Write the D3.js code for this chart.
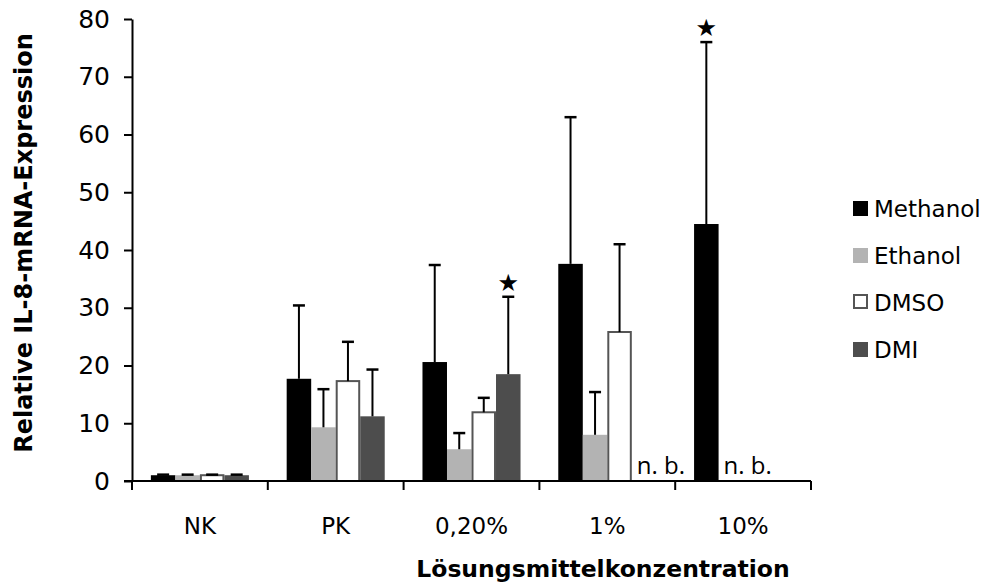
<!DOCTYPE html>
<html>
<head>
<meta charset="utf-8">
<script src="https://d3js.org/d3.v7.min.js"></script>
<style>
  body { margin: 0; background: #fff; }
  svg text { font-family: "DejaVu Sans", Verdana, sans-serif; fill: #000; }
</style>
</head>
<body>
<svg id="chart"></svg>
<script>
// categories and series
var categories = ["NK", "PK", "0,20%", "1%", "10%"];
var seriesNames = ["Methanol", "Ethanol", "DMSO", "DMI"];

// means per series (null = n. b.)
var methanol = [1.0, 17.7, 20.6, 37.6, 44.5];
var ethanol  = [1.0,  9.3,  5.5,  8.0, null];
var dmso     = [1.0, 17.3, 11.9, 25.8, null];
var dmi      = [1.0, 11.2, 18.5, null, null];

// upper error (SD) per series
var methanolErr = [0.1, 12.7, 16.8, 25.4, 31.5];
var ethanolErr  = [0.1,  6.6,  2.8,  7.4, null];
var dmsoErr     = [0.1,  6.8,  2.5, 15.2, null];
var dmiErr      = [0.1,  8.1, 13.4, null, null];

// significance marks: [category, series]
var stars = [["0,20%", "DMI"], ["10%", "Methanol"]];
var yTicks = [0, 10, 20, 30, 40, 50, 60, 70, 80];

var means = [methanol, ethanol, dmso, dmi];
var errs = [methanolErr, ethanolErr, dmsoErr, dmiErr];
var fills = ["#000000", "#b3b3b3", "#ffffff", "#4d4d4d"];
var strokes = ["none", "none", "#555555", "none"];

var width = 984, height = 582;
var margin = {left: 132, right: 173, top: 19, bottom: 101};

var svg = d3.select("#chart").attr("width", width).attr("height", height);

var x = d3.scaleBand().domain(categories)
  .range([margin.left, width - margin.right]).paddingInner(0).paddingOuter(0);
var xs = d3.scaleBand().domain(seriesNames)
  .range([0, x.bandwidth()]).paddingInner(0).paddingOuter(0.77);
var y = d3.scaleLinear().domain([0, 80]).range([height - margin.bottom, margin.top]);

// bars
seriesNames.forEach(function(s, i) {
  var rows = categories.map(function(c, j) {
    return {cat: c, v: means[i][j], e: errs[i][j]};
  }).filter(function(d) { return d.v != null; });

  var g = svg.append("g");
  g.selectAll("rect").data(rows).enter().append("rect")
    .attr("x", function(d) { return x(d.cat) + xs(s) + (strokes[i] != "none" ? 1 : 0); })
    .attr("y", function(d) { return y(d.v); })
    .attr("width", xs.bandwidth() - (strokes[i] != "none" ? 2 : 0))
    .attr("height", function(d) { return y(0) - y(d.v); })
    .attr("fill", fills[i])
    .attr("stroke", strokes[i])
    .attr("stroke-width", 2);

  // upper error bars
  var cx = function(d) { return x(d.cat) + xs(s) + xs.bandwidth() / 2; };
  g.selectAll("line.err").data(rows).enter().append("line")
    .attr("x1", cx).attr("x2", cx)
    .attr("y1", function(d) { return y(d.v); })
    .attr("y2", function(d) { return y(d.v + d.e); })
    .attr("stroke", "#000").attr("stroke-width", 2);
  g.selectAll("line.cap").data(rows).enter().append("line")
    .attr("x1", function(d) { return cx(d) - 6; })
    .attr("x2", function(d) { return cx(d) + 6; })
    .attr("y1", function(d) { return y(d.v + d.e); })
    .attr("y2", function(d) { return y(d.v + d.e); })
    .attr("stroke", "#000").attr("stroke-width", 2.5);
});

// n. b. labels: first missing series per category
categories.forEach(function(c, j) {
  for (var i = 0; i < seriesNames.length; i++) {
    if (means[i][j] == null) {
      svg.append("text")
        .attr("x", x(c) + xs(seriesNames[i]) + 5)
        .attr("y", y(0) - 7)
        .style("font-family", "'Open Sans', sans-serif")
        .style("font-size", "24px")
        .text("n. b.");
      break;
    }
  }
});

// stars
stars.forEach(function(st) {
  var i = seriesNames.indexOf(st[1]), j = categories.indexOf(st[0]);
  svg.append("text")
    .attr("x", x(st[0]) + xs(st[1]) + xs.bandwidth() / 2)
    .attr("y", y(means[i][j] + errs[i][j]) - 6)
    .attr("text-anchor", "middle")
    .style("font-size", "24px")
    .text("\u2605");
});

// y axis
var yAxis = d3.axisLeft(y).tickValues(yTicks).tickSize(8).tickSizeOuter(0).tickPadding(14);
var gy = svg.append("g").attr("transform", "translate(" + margin.left + ",0)").call(yAxis);
gy.selectAll("text").style("font-size", "25px").style("font-family", "'DejaVu Sans', sans-serif");

// x axis (ticks at band boundaries)
var gx = svg.append("g").attr("transform", "translate(0," + y(0) + ")");
gx.append("line").attr("x1", margin.left - 8).attr("x2", width - margin.right)
  .attr("stroke", "#000").attr("stroke-width", 2);
var bounds = categories.map(function(c) { return x(c); }).concat([x(categories[4]) + x.bandwidth()]);
gx.selectAll("line.t").data(bounds).enter().append("line")
  .attr("x1", function(d) { return d; }).attr("x2", function(d) { return d; })
  .attr("y1", 0).attr("y2", 9).attr("stroke", "#000").attr("stroke-width", 2);
gx.selectAll("text").data(categories).enter().append("text")
  .attr("x", function(c) { return x(c) + x.bandwidth() / 2; })
  .attr("y", 53).attr("text-anchor", "middle")
  .style("font-size", "23px")
  .text(function(c) { return c; });

svg.selectAll(".domain").attr("stroke", "#000").attr("stroke-width", 2);
svg.selectAll(".tick line").attr("stroke", "#000").attr("stroke-width", 2);

// axis titles
svg.append("text")
  .attr("transform", "translate(32," + (margin.top + 224) + ") rotate(-90)")
  .attr("text-anchor", "middle")
  .style("font-size", "24px").style("font-weight", "bold")
  .text("Relative IL-8-mRNA-Expression");
svg.append("text")
  .attr("x", 603).attr("y", 577).attr("text-anchor", "middle")
  .style("font-size", "23.5px").style("font-weight", "bold")
  .text("Lösungsmittelkonzentration");

// legend
var leg = svg.append("g").attr("transform", "translate(853,208)");
seriesNames.forEach(function(s, i) {
  var row = leg.append("g").attr("transform", "translate(0," + (i * 47) + ")");
  row.append("rect")
    .attr("x", strokes[i] != "none" ? 1 : 0).attr("y", -7)
    .attr("width", strokes[i] != "none" ? 13 : 15).attr("height", strokes[i] != "none" ? 13 : 15)
    .attr("fill", fills[i]).attr("stroke", strokes[i]).attr("stroke-width", 2);
  row.append("text").attr("x", 21).attr("y", 9)
    .style("font-size", "23px").text(s);
});
</script>
</body>
</html>
